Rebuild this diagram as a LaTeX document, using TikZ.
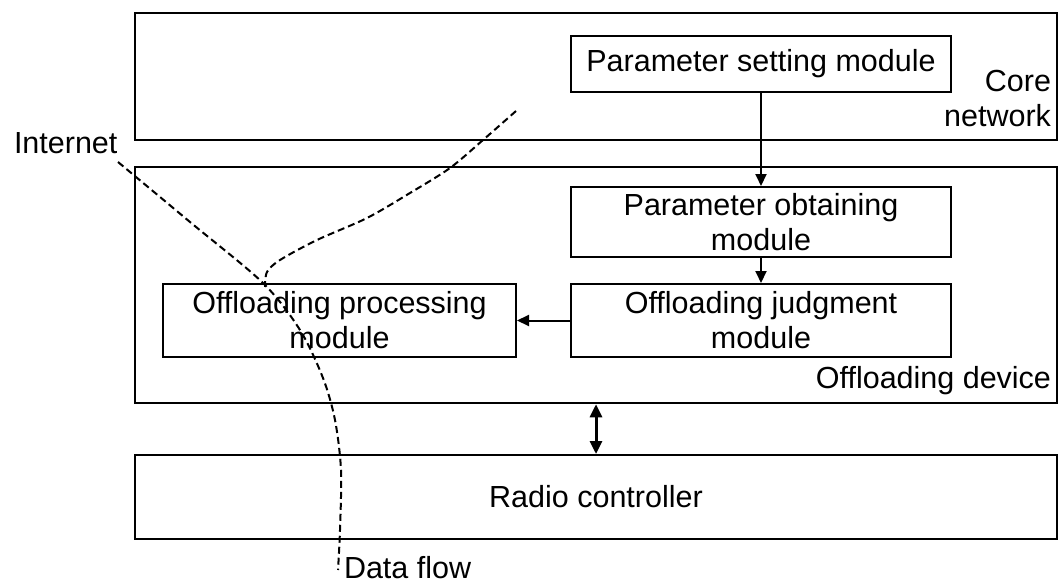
\documentclass[tikz,border=0pt]{standalone}
\usepackage{fontspec}
\setmainfont{Liberation Sans}
\usetikzlibrary{arrows.meta}

\begin{document}
\begin{tikzpicture}[> = {Triangle[length=12pt, width=11pt]}, % arrow head style
                x = 1pt, y = -1pt, % one unit per pixel, y downwards
                line width = 2pt % line style
            ]

            \tikzstyle{every node}=[font = \fontsize{30.5}{35}\selectfont,
            inner sep = 0pt, align = center]
            \tikzstyle{frame}=[draw = black, minimum width = 922pt]
            \tikzstyle{module}=[draw = black, minimum width = 380pt]
            \tikzstyle{flow}=[line width = 2pt, dash pattern = on 7pt off 4pt]

            \useasboundingbox (0,0) rectangle (1060,586);

            \node (1) [frame, minimum height = 127pt] at (596,76.5) {}; \node
            (3) [frame, minimum height = 236pt, line width = 2.5pt] at
            (596,285) {}; \node (7) [frame, minimum height = 84pt] at (596,497)
            {Radio controller};

            \node (2) [module, minimum height = 56pt] at (761,64) {Parameter
                setting module}; \node (4) [module, minimum height = 70pt] at
            (761,222) {Parameter obtaining\\module}; \node (5) [module, minimum
                height = 73pt] at (761,320.5) {Offloading judgment\\module};
            \node (6) [module, minimum width = 353pt, minimum height = 73pt]
            at (339.5,320.5) {Offloading processing\\module};

            \node (8) [anchor = east, align = right] at (1052,99)
            {Core\\network}; \node (9) [anchor = base east] at (1052,388)
            {Offloading device}; \node (10) [anchor = base west] at (13,153)
            {Internet}; \node (11) [anchor = base west] at (343,578) {Data
                flow};

            \path[->, line width = 2pt] (2) edge (4); \path[->, line width =
            2pt] (4) edge (5); \path[->, line width = 2pt] (5) edge (6);
            \path[{Triangle[length=13pt, width=12pt]}-{Triangle[length=13pt,
                width=12pt]}, line width = 3pt] (3) edge (7);

            \draw[flow] plot[smooth] coordinates {(118,162) (190,222)
                (263,283) (300,330) (323,378) (335,420) (341,470) (340,530)
                (338,570)}; \draw[flow] plot[smooth] coordinates {(516,111)
                (483,140) (450,168) (410,193) (367,218) (317,240) (280,260)
                (267,272) (265,287)}; \end{tikzpicture}
\end{document}
